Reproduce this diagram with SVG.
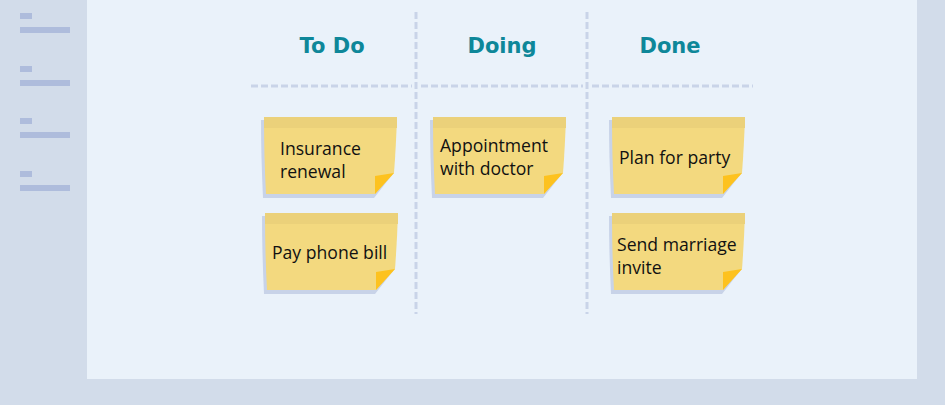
<svg xmlns="http://www.w3.org/2000/svg" width="945" height="405" viewBox="0 0 945 405">
<defs>
<style>
.bg{fill:#d2dcea}
.panel{fill:#eaf2fa}
.side{fill:#aebcdc}
.dash{stroke:#c9d4e8;stroke-width:3;stroke-dasharray:7 3;fill:none}
.head{font-family:"DejaVu Sans",Verdana,sans-serif;font-weight:bold;font-size:21px;fill:#0e8799;text-anchor:middle}
.note{fill:#f3d97f}
.strip{fill:#ebd17a}
.shadow{fill:#c8d3e8}
.fold{fill:#fdc21f}
.txt{font-family:"Open Sans","Liberation Sans",sans-serif;font-size:17.6px;fill:#111}
</style>
<g id="sticky">
<path class="shadow" d="M-3,3 L130,3 L128,58 L110,81 L-1,81 Q-3,40 -3,3 Z"/>
<path class="note" d="M0,0 L133,0 Q132,30 130,56 L111,77 L2,77 Q0,40 0,0 Z"/>
<path class="strip" d="M0,0 L133,0 L133,11 L0,11 Z"/>
<path class="fold" d="M111,59 L130,56 L111,77 Z"/>
</g>
</defs>
<rect class="bg" x="0" y="0" width="945" height="405"/>
<rect class="panel" x="87" y="0" width="830" height="379"/>
<g id="sidebar">
<rect class="side" x="20" y="13" width="12" height="6"/>
<rect class="side" x="20" y="27" width="50" height="6"/>
<rect class="side" x="20" y="66" width="12" height="6"/>
<rect class="side" x="20" y="80" width="50" height="6"/>
<rect class="side" x="20" y="118" width="12" height="6"/>
<rect class="side" x="20" y="132" width="50" height="6"/>
<rect class="side" x="20" y="171" width="12" height="6"/>
<rect class="side" x="20" y="185" width="50" height="6"/>
</g>
<g id="connectors">
<line class="dash" x1="416" y1="12" x2="416" y2="314"/>
<line class="dash" x1="587" y1="12" x2="587" y2="314"/>
<line class="dash" x1="251" y1="86" x2="412" y2="86"/>
<line class="dash" x1="421" y1="86" x2="583" y2="86"/>
<line class="dash" x1="592" y1="86" x2="753" y2="86"/>
</g>
<g id="headers">
<text class="head" x="332" y="53">To Do</text>
<text class="head" x="502" y="53">Doing</text>
<text class="head" x="670" y="53">Done</text>
</g>
<g id="note-insurance">
<use href="#sticky" x="264" y="117"/>
<text class="txt" x="280" y="155">Insurance</text>
<text class="txt" x="280" y="178">renewal</text>
</g>
<g id="note-phone">
<use href="#sticky" x="265" y="213"/>
<text class="txt" x="272" y="259">Pay phone bill</text>
</g>
<g id="note-doctor">
<use href="#sticky" x="433" y="117"/>
<text class="txt" x="440" y="152">Appointment</text>
<text class="txt" x="440" y="175">with doctor</text>
</g>
<g id="note-party">
<use href="#sticky" x="612" y="117"/>
<text class="txt" x="619" y="164">Plan for party</text>
</g>
<g id="note-marriage">
<use href="#sticky" x="612" y="213"/>
<text class="txt" x="617" y="251">Send marriage</text>
<text class="txt" x="617" y="274">invite</text>
</g>
</svg>
